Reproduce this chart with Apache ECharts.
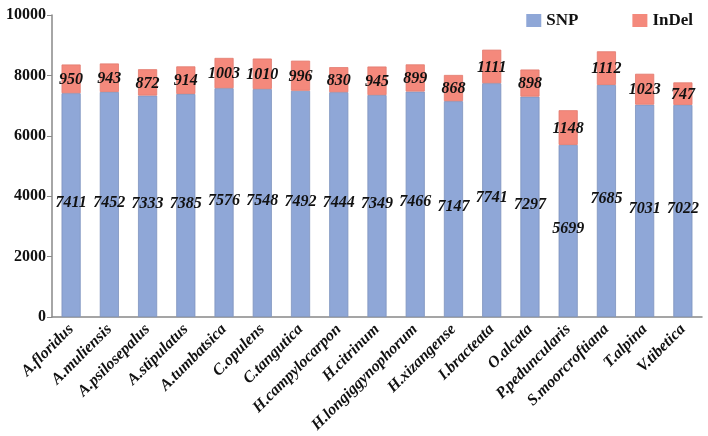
<!DOCTYPE html>
<html><head><meta charset="utf-8">
<script src="https://cdn.jsdelivr.net/npm/echarts@6/dist/echarts.min.js"></script>
<style>html,body{margin:0;padding:0;background:#fff}#c{width:708px;height:436px}</style>
</head><body><div id="c"></div>
<script>
const categories = ['A.floridus','A.muliensis','A.psilosepalus','A.stipulatus','A.tumbatsica','C.opulens','C.tangutica','H.campylocarpon','H.citrinum','H.longiggynophorum','H.xizangense','I.bracteata','O.alcata','P.peduncularis','S.moorcroftiana','T.alpina','V.tibetica'];
const snp = [7411,7452,7333,7385,7576,7548,7492,7444,7349,7466,7147,7741,7297,5699,7685,7031,7022];
const indel = [950,943,872,914,1003,1010,996,830,945,899,868,1111,898,1148,1112,1023,747];
const yTicks = [0,2000,4000,6000,8000,10000];

const serif = 'Liberation Serif';
const chart = echarts.init(document.getElementById('c'));
chart.setOption({
  animation:false,
  grid:{left:52,right:6,top:15,bottom:119,containLabel:false},
  legend:{
    right:10, top:7, itemWidth:15, itemHeight:13, itemGap:54, icon:'rect',
    itemStyle:{borderWidth:0},
    textStyle:{fontFamily:serif,fontWeight:'bold',fontSize:17,color:'#111'},
    data:['SNP','InDel']
  },
  xAxis:{
    type:'category', data:categories,
    axisLine:{lineStyle:{color:'#888',width:1.5}},
    axisTick:{alignWithLabel:true,length:5,lineStyle:{color:'#888'}},
    axisLabel:{rotate:45,interval:0,fontFamily:serif,fontWeight:'bold',fontStyle:'italic',fontSize:16,color:'#111',margin:10}
  },
  yAxis:{
    type:'value', min:0, max:10000, interval:2000,
    splitLine:{show:false},
    axisLine:{show:true,lineStyle:{color:'#888',width:1.5}},
    axisTick:{show:true,length:5,lineStyle:{color:'#888'}},
    axisLabel:{fontFamily:serif,fontWeight:'bold',fontSize:16,color:'#111',margin:6,
      formatter:function(v){return yTicks.indexOf(v)>=0?String(v):'';}}
  },
  series:[
    {name:'SNP',type:'bar',stack:'t',data:snp,barWidth:'50%',
     itemStyle:{color:'#8FA7D7',borderColor:'#7E93BE',borderWidth:0.8},
     label:{show:true,position:'inside',fontFamily:serif,fontWeight:'bold',fontStyle:'italic',fontSize:16,color:'#111',offset:[0,-2]}},
    {name:'InDel',type:'bar',stack:'t',data:indel,barWidth:'50%',
     itemStyle:{color:'#F4897C',borderColor:'#E27A6E',borderWidth:0.8},
     label:{show:true,position:'inside',fontFamily:serif,fontWeight:'bold',fontStyle:'italic',fontSize:16,color:'#111',offset:[0,1]}}
  ]
});
</script></body></html>
